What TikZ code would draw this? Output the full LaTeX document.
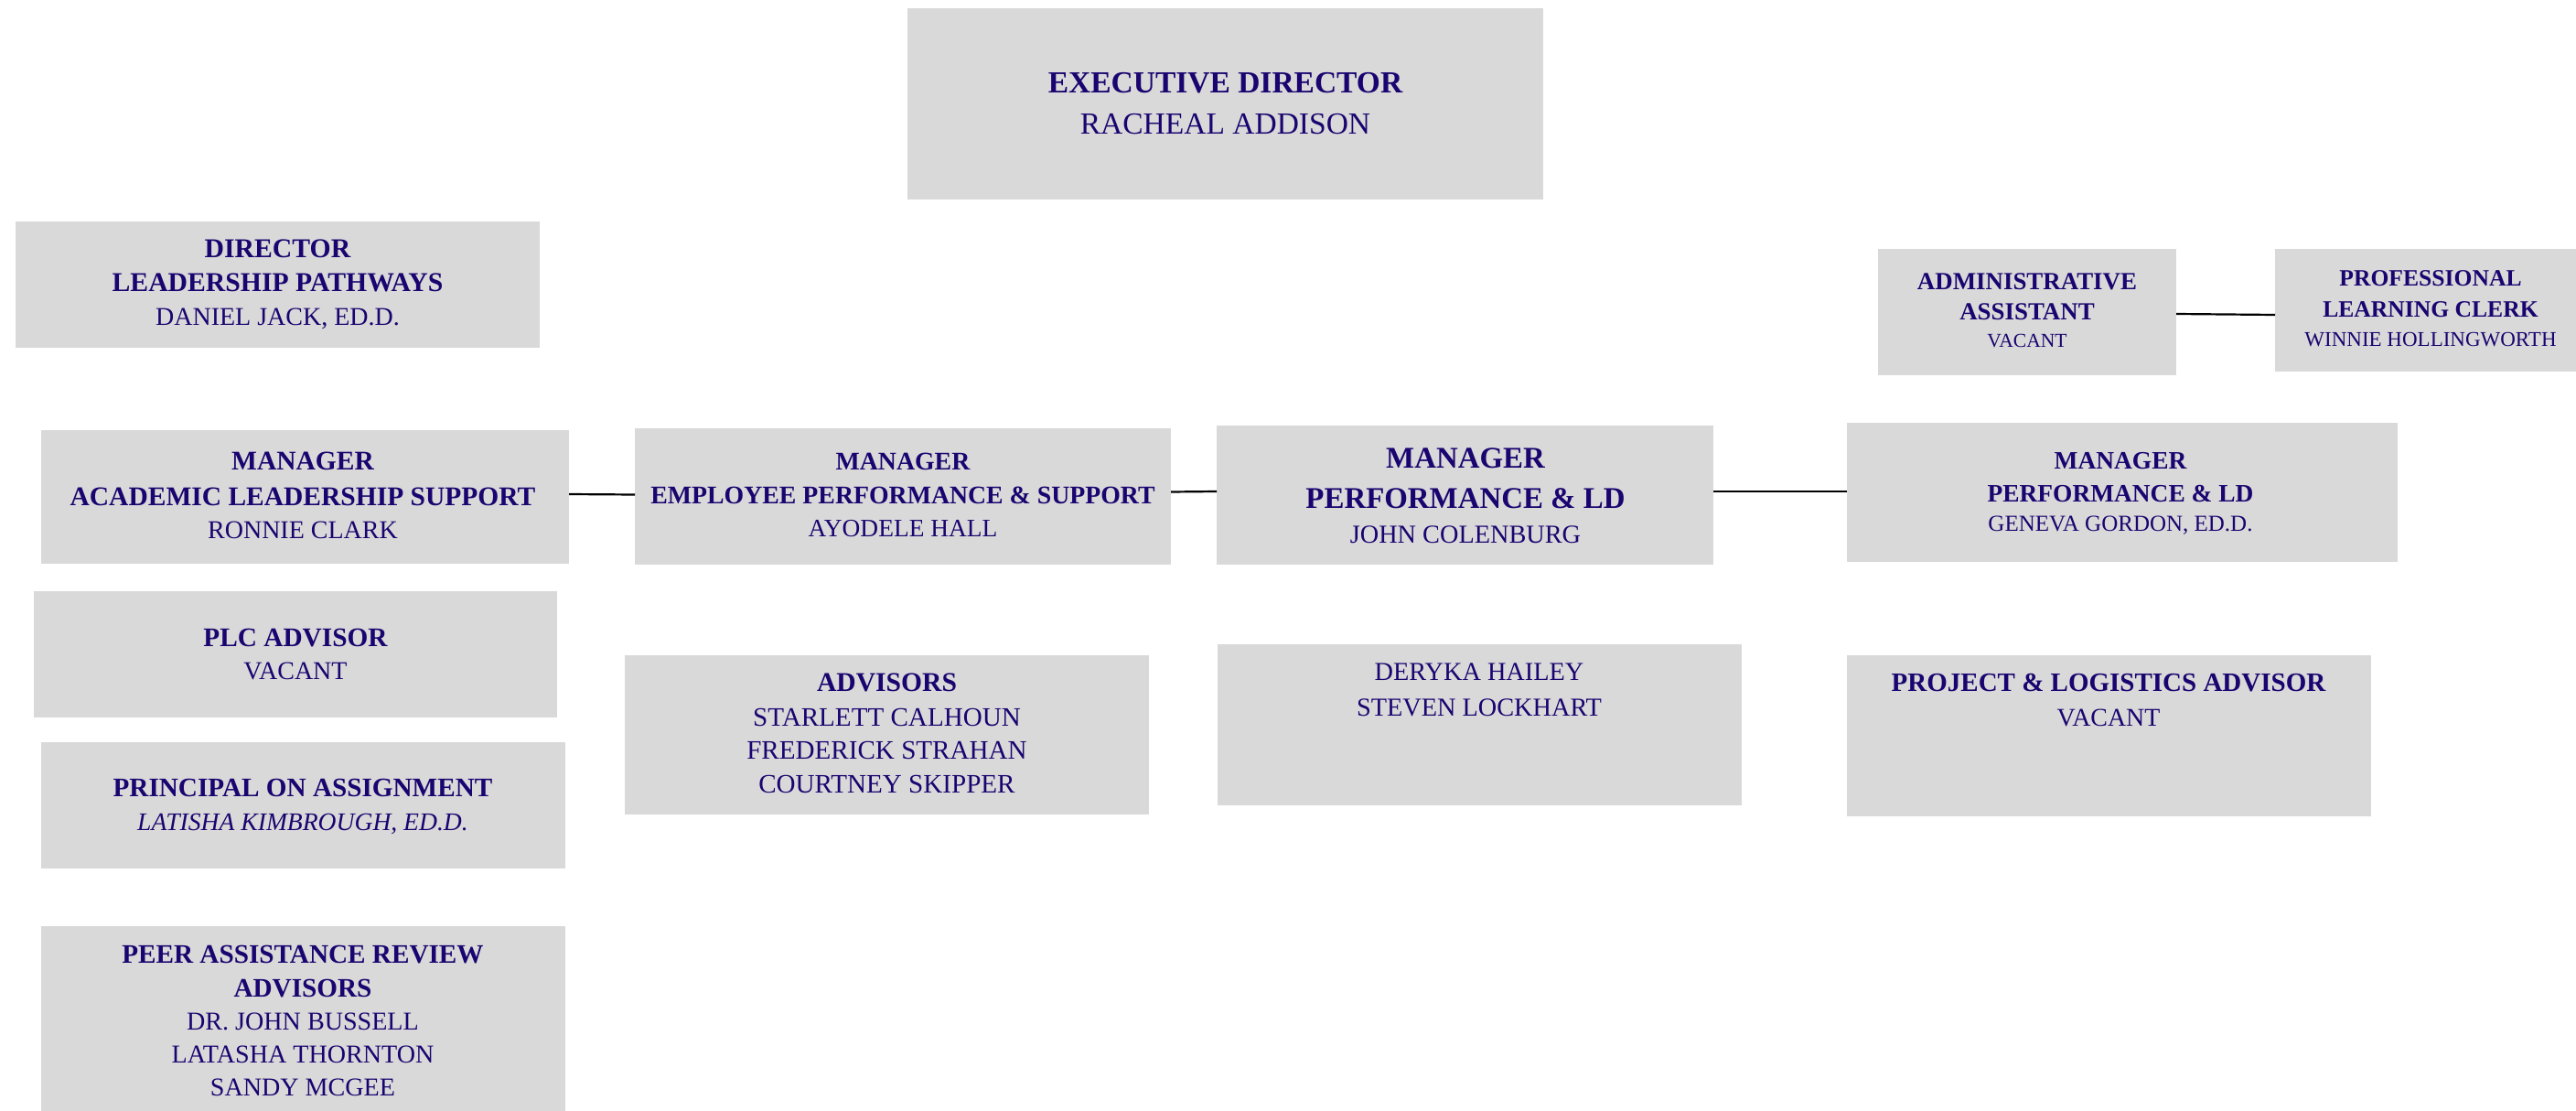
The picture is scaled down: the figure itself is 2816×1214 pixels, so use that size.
\documentclass[tikz,border=0pt]{standalone}
\usepackage{fontspec}
\setmainfont{Liberation Serif}
\definecolor{ink}{RGB}{26,4,112}
\definecolor{boxgray}{HTML}{D9D9D9}
\begin{document}
\begin{tikzpicture}[x=1pt,y=-1pt,
  box/.style={fill=boxgray,draw=none,inner sep=0pt,outer sep=0pt},
  tl/.style={text=ink,anchor=base,inner sep=0pt,font=\bfseries\fontsize{#1}{#1}\selectfont},
  nm/.style={text=ink,anchor=base,inner sep=0pt,font=\fontsize{#1}{#1}\selectfont},
  ni/.style={text=ink,anchor=base,inner sep=0pt,font=\itshape\fontsize{#1}{#1}\selectfont},
  link/.style={draw=black,line width=2.2pt}]
\useasboundingbox (0,0) rectangle (2816,1214);
% helper: box from corners
\newcommand{\orgbox}[5]{\node[box,minimum width={#4-#2},minimum height={#5-#3}] (#1) at ({(#2+#4)/2},{(#3+#5)/2}) {};}
% boxes
\orgbox{ed}{992}{9}{1687}{218}
\orgbox{dlp}{17}{242}{590}{380}
\orgbox{als}{45}{470}{622}{616}
\orgbox{eps}{694}{468}{1280}{617}
\orgbox{jc}{1330}{465}{1873}{617}
\orgbox{gg}{2019}{462}{2621}{614}
\orgbox{aa}{2053}{272}{2379}{410}
\orgbox{plc}{2487}{272}{2830}{406}
\orgbox{plca}{37}{646}{609}{784}
\orgbox{adv}{683}{716}{1256}{890}
\orgbox{dh}{1331}{704}{1904}{880}
\orgbox{pla}{2019}{716}{2592}{892}
\orgbox{poa}{45}{811}{618}{949}
\orgbox{par}{45}{1012}{618}{1230}
% connectors
\draw[link] ([yshift=3pt]als.east) -- ([yshift=2pt]eps.west);
\draw[link] ([yshift=5pt]eps.east) -- ([yshift=4pt]jc.west);
\draw[link] ([yshift=4pt]jc.east) -- ([yshift=1pt]gg.west);
\draw[link] ([yshift=-2pt]aa.east) -- ([yshift=-5pt]plc.west);
% texts
\node[tl=33.5] (ed1) at (1339.5,102) {EXECUTIVE DIRECTOR};
\node[nm=33.5] (ed2) at (1339.5,147) {RACHEAL ADDISON};

\node[tl=29.7] (dlp1) at (303.5,282) {DIRECTOR};
\node[tl=29.7] (dlp2) at (303.5,319) {LEADERSHIP PATHWAYS};
\node[nm=28] (dlp3) at (303.5,356) {DANIEL JACK, ED.D.};

\node[tl=29.5] (als1) at (331,513) {MANAGER};
\node[tl=29.5] (als2) at (331,552) {ACADEMIC LEADERSHIP SUPPORT};
\node[nm=28] (als3) at (331,588) {RONNIE CLARK};

\node[tl=27.8] (eps1) at (987,513) {MANAGER};
\node[tl=27.8] (eps2) at (987,550) {EMPLOYEE PERFORMANCE \& SUPPORT};
\node[nm=27.4] (eps3) at (987,586) {AYODELE HALL};

\node[tl=32.9] (jc1) at (1602,511) {MANAGER};
\node[tl=32.9] (jc2) at (1602,555) {PERFORMANCE \& LD};
\node[nm=28.3] (jc3) at (1602,593) {JOHN COLENBURG};

\node[tl=27.4] (gg1) at (2318,512) {MANAGER};
\node[tl=27.4] (gg2) at (2318,548) {PERFORMANCE \& LD};
\node[nm=25] (gg3) at (2318,580) {GENEVA GORDON, ED.D.};

\node[tl=26.9] (aa1) at (2216,317) {ADMINISTRATIVE};
\node[tl=26.9] (aa2) at (2216,350) {ASSISTANT};
\node[nm=21.6] (aa3) at (2216,380) {VACANT};

\node[tl=25.6] (plc1) at (2657,313) {PROFESSIONAL};
\node[tl=25.6] (plc2) at (2657,347) {LEARNING CLERK};
\node[nm=23] (plc3) at (2657,378) {WINNIE HOLLINGWORTH};

\node[tl=29.3] (plca1) at (323,706) {PLC ADVISOR};
\node[nm=28] (plca2) at (323,742) {VACANT};

\node[tl=29.6] (adv1) at (969.5,755) {ADVISORS};
\node[nm=29.1] (adv2) at (969.5,793) {STARLETT CALHOUN};
\node[nm=29.1] (adv3) at (969.5,829) {FREDERICK STRAHAN};
\node[nm=29.1] (adv4) at (969.5,866) {COURTNEY SKIPPER};

\node[nm=28.3] (dh1) at (1617,743) {DERYKA HAILEY};
\node[nm=28.3] (dh2) at (1617,782) {STEVEN LOCKHART};

\node[tl=29] (pla1) at (2305,755) {PROJECT \& LOGISTICS ADVISOR};
\node[nm=27.9] (pla2) at (2305,793) {VACANT};

\node[tl=29.2] (poa1) at (331,870) {PRINCIPAL ON ASSIGNMENT};
\node[ni=27.6] (poa2) at (331,907) {LATISHA KIMBROUGH, ED.D.};

\node[tl=29.2] (par1) at (331,1052) {PEER ASSISTANCE REVIEW};
\node[tl=29.2] (par2) at (331,1089) {ADVISORS};
\node[nm=28.1] (par3) at (331,1125) {DR. JOHN BUSSELL};
\node[nm=28.1] (par4) at (331,1161) {LATASHA THORNTON};
\node[nm=28.1] (par5) at (331,1197) {SANDY MCGEE};
\end{tikzpicture}
\end{document}
